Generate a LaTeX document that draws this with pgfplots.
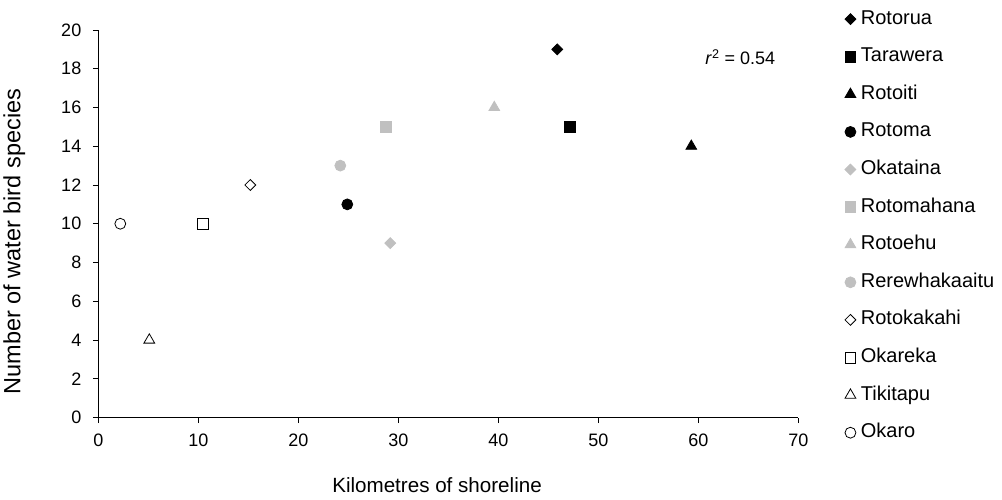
\documentclass[border=0pt]{standalone}
\usepackage{fontspec}
\setmainfont{Liberation Sans}
\usepackage{pgfplots}
\pgfplotsset{compat=1.18}
\definecolor{lg}{RGB}{192,192,192}
\begin{document}
\begin{tikzpicture}[x=1pt,y=1pt]
\path[use as bounding box] (0,0) rectangle (1002,499);
\begin{axis}[
 at={(98.3pt,81.5pt)}, anchor=south west,
 scale only axis, width=700pt, height=387.5pt,
 xmin=0, xmax=70, ymin=0, ymax=20,
 xtick={0,10,...,70}, ytick={0,2,...,20},
 axis lines=left, axis line style={-, line width=0.8pt},
 tick align=outside, major tick length=5.5pt,
 tick style={line width=0.8pt, black},
 /pgf/number format/assume math mode=true,
 ticklabel style={font=\fontsize{18}{20}\selectfont},
 xticklabel style={yshift=-7pt},
 yticklabel style={xshift=-8pt},
 xlabel={Kilometres of shoreline},
 ylabel={Number of water bird species},
 xlabel style={font=\fontsize{20.6}{24}\selectfont, at={(axis description cs:0.4839,-0.1742)}, anchor=center},
 ylabel style={font=\fontsize{23.5}{26}\selectfont, at={(axis description cs:-0.12,0.4537)}, anchor=center},
 clip=false,
 legend style={at={(axis description cs:1.0664,1.057)}, anchor=north west,
   draw=none, fill=none, inner sep=0pt, row sep=15.6pt, column sep=3pt,
   font=\fontsize{20}{22}\selectfont,
   nodes={text height=14pt, text depth=4pt, inner sep=2pt}},
 legend cell align=left,
 legend image code/.code={\draw[#1] plot coordinates {(0pt,0pt)};},
]
\addplot[only marks, black, line width=0.8pt, mark=square*, mark size=3.85pt, mark options={rotate=45}] coordinates {(45.9,19)};
\addlegendentry{Rotorua}
\addplot[only marks, black, line width=0.8pt, mark=square*, mark size=5.45pt] coordinates {(47.2,15)};
\addlegendentry{Tarawera}
\addplot[only marks, black, line width=0.8pt, mark=triangle*, mark size=6.2pt] coordinates {(59.3,14)};
\addlegendentry{Rotoiti}
\addplot[only marks, black, line width=0.8pt, mark=*, mark size=5.45pt] coordinates {(24.9,11)};
\addlegendentry{Rotoma}
\addplot[only marks, lg, line width=0.8pt, mark=square*, mark size=3.85pt, mark options={rotate=45}] coordinates {(29.2,9)};
\addlegendentry{Okataina}
\addplot[only marks, lg, line width=0.8pt, mark=square*, mark size=5.45pt] coordinates {(28.8,15)};
\addlegendentry{Rotomahana}
\addplot[only marks, lg, line width=0.8pt, mark=triangle*, mark size=6.2pt] coordinates {(39.6,16)};
\addlegendentry{Rotoehu}
\addplot[only marks, lg, line width=0.8pt, mark=*, mark size=5.45pt] coordinates {(24.2,13)};
\addlegendentry{Rerewhakaaitu}
\addplot[only marks, black, line width=0.8pt, mark=square, mark size=3.85pt, mark options={rotate=45}] coordinates {(15.2,12)};
\addlegendentry{Rotokakahi}
\addplot[only marks, black, line width=0.8pt, mark=square, mark size=5.45pt] coordinates {(10.5,10)};
\addlegendentry{Okareka}
\addplot[only marks, black, line width=0.8pt, mark=triangle, mark size=6.2pt] coordinates {(5.1,4)};
\addlegendentry{Tikitapu}
\addplot[only marks, black, line width=0.8pt, mark=o, mark size=5.45pt] coordinates {(2.2,10)};
\addlegendentry{Okaro}
\node[font=\fontsize{18}{20}\selectfont] at (axis cs:64.2,18.6) {\textit{r}\textsuperscript{2} = 0.54};
\end{axis}
\end{tikzpicture}
\end{document}
